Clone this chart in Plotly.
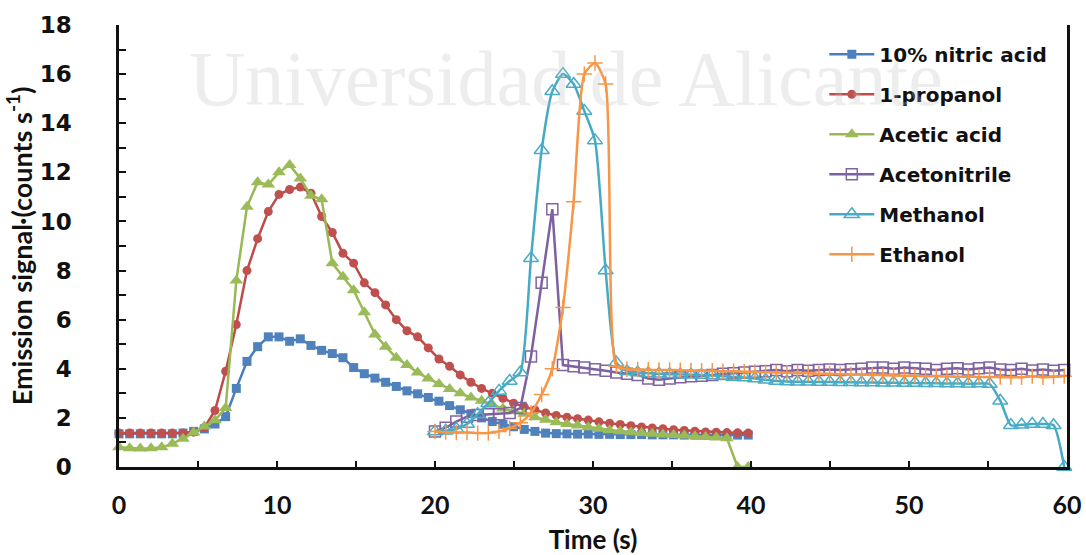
import plotly.graph_objects as go

# ---------------- data ----------------
STEP = 0.675
t_first = [round(k * STEP, 3) for k in range(60)]          # 0 .. 39.8 s
t_second = [round(20 + k * STEP, 3) for k in range(60)]    # 20 .. 59.8 s

nitric = [1.35, 1.35, 1.35, 1.35, 1.35, 1.35, 1.38,
          1.45, 1.55, 1.75, 2.05, 3.2, 4.3, 4.9, 5.3, 5.3, 5.12, 5.22, 4.95, 4.75,
          4.62, 4.45, 4.05, 3.8, 3.62, 3.45, 3.28, 3.1, 2.98, 2.83, 2.68, 2.5, 2.33,
          2.17, 2.0, 1.85, 1.74, 1.64, 1.53, 1.45, 1.38,
          1.36, 1.35, 1.34, 1.34, 1.33, 1.33, 1.32, 1.32, 1.32, 1.31, 1.31, 1.31,
          1.3, 1.3, 1.3, 1.3, 1.3, 1.3, 1.3]

propanol = [1.38, 1.38, 1.38, 1.38, 1.38, 1.38, 1.38,
            1.42, 1.6, 2.3, 3.9, 5.8, 8.0, 9.3, 10.4, 11.1, 11.3, 11.4, 11.15, 10.2,
            9.55, 8.7, 8.3, 7.5, 7.1, 6.6, 6.0, 5.55, 5.3, 4.85, 4.4, 4.1, 3.75, 3.45,
            3.2, 3.0, 2.8, 2.6, 2.45, 2.32, 2.2, 2.1, 2.03, 1.97, 1.91, 1.84, 1.78,
            1.73, 1.68, 1.63, 1.59, 1.56, 1.52, 1.49, 1.46, 1.43, 1.42, 1.4, 1.39, 1.38]

acetic = [0.8, 0.76, 0.75, 0.76, 0.8, 0.95, 1.15, 1.4, 1.65, 1.9, 2.4, 7.6, 10.6,
          11.6, 11.5, 12.0, 12.3, 11.75, 11.05, 10.9, 8.3, 7.75, 7.2, 6.3, 5.4, 4.9,
          4.45, 4.15, 3.85, 3.6, 3.38, 3.18, 3.0, 2.83, 2.7, 2.55, 2.38, 2.27, 2.17,
          2.03, 1.92, 1.82, 1.75, 1.69, 1.62, 1.56, 1.5, 1.46, 1.42, 1.38, 1.35, 1.32,
          1.3, 1.28, 1.25, 1.22, 1.2, 1.17, 0.0, 0.0]

acetonitrile = [1.45, 1.6, 1.85, 2.05, 2.12, 2.15, 2.15, 2.2, 2.4, 4.5, 7.5, 10.5,
                4.15, 4.1, 4.05, 3.98, 3.92, 3.85, 3.8, 3.75, 3.6, 3.55, 3.6, 3.65,
                3.7, 3.72, 3.75, 3.8, 3.82, 3.85, 3.88, 3.9, 3.95, 3.9, 3.95, 3.92,
                3.95, 3.97, 3.95, 3.98, 4.0, 4.05, 4.05, 4.0, 4.05, 4.02, 4.0, 3.95,
                4.0, 4.02, 3.97, 4.02, 4.05, 3.97, 3.95, 4.0, 3.93, 3.97, 3.92, 3.95]

methanol = [1.45, 1.48, 1.55, 1.75, 2.15, 2.6, 3.1, 3.5, 3.85, 8.5, 12.9, 15.3,
            16.0, 15.6, 14.5, 13.3, 8.0, 4.25,
            3.9, 3.85, 3.82, 3.8, 3.78, 3.77, 3.76, 3.75, 3.73, 3.7, 3.67, 3.64,
            3.6, 3.55, 3.5, 3.48, 3.47, 3.47, 3.46, 3.46, 3.45, 3.45, 3.44, 3.44,
            3.43, 3.43, 3.42, 3.42, 3.41, 3.41, 3.4, 3.4, 3.39, 3.4, 3.38,
            2.7, 1.7, 1.72, 1.75, 1.75, 1.7, 0.0]

ethanol = [1.45, 1.42, 1.4, 1.4, 1.38, 1.38, 1.45, 1.58, 1.8, 2.2, 2.95, 4.0, 6.5,
           10.8, 16.0, 16.45, 15.6, 4.1,
           3.98, 3.97, 3.96, 3.95, 3.95, 3.94, 3.93, 3.92, 3.92, 3.9, 3.9, 3.88,
           3.87, 3.86, 3.85, 3.84, 3.83, 3.82, 3.8, 3.8, 3.78, 3.77, 3.76, 3.75,
           3.74, 3.73, 3.72, 3.71, 3.7, 3.7, 3.69, 3.68, 3.68, 3.67, 3.67, 3.66,
           3.66, 3.65, 3.7, 3.65, 3.68, 3.7]

x_ticks = [0, 10, 20, 30, 40, 50, 60]
y_ticks = [0, 2, 4, 6, 8, 10, 12, 14, 16, 18]

# ---------------- figure ----------------
fig = go.Figure()

series = [
    ("10% nitric acid", t_first, nitric, "#4A7EBB",
     dict(symbol="square", size=9, color="#4F81BD"), "linear"),
    ("1-propanol", t_first, propanol, "#BE4B48",
     dict(symbol="circle", size=9, color="#C0504D"), "linear"),
    ("Acetic acid", t_first, acetic, "#98B954",
     dict(symbol="triangle-up", size=12, color="#9BBB59"), "linear"),
    ("Acetonitrile", t_second, acetonitrile, "#7D60A0",
     dict(symbol="square-open", size=11, color="#8064A2", line=dict(width=1.5)), "linear"),
    ("Methanol", t_second, methanol, "#46AAC5",
     dict(symbol="triangle-up-open", size=13, color="#4BACC6", line=dict(width=1.5)), "spline"),
    ("Ethanol", t_second, ethanol, "#F79646",
     dict(symbol="cross-thin", size=11, color="#F79646", line=dict(width=1.5, color="#F79646")), "spline"),
]

for i, (name, xs, ys, lc, mk, shape) in enumerate(series):
    line = dict(color=lc, width=2.5, shape=shape)
    if shape == "spline":
        line["smoothing"] = 0.6
    fig.add_trace(go.Scatter(
        x=xs, y=ys, name=name, mode="lines+markers",
        line=line, marker=mk, cliponaxis=False,
        legendgroup=f"g{i}",
    ))

fig.add_annotation(
    text="Universidad de Alicante", xref="paper", yref="paper",
    x=0.4715, y=0.88, xanchor="center", yanchor="middle", showarrow=False,
    font=dict(family="Liberation Serif", size=78, color="rgba(190,190,190,0.28)"),
)

fig.update_layout(
    width=1086, height=555,
    margin=dict(l=119, r=19, t=25, b=88),
    paper_bgcolor="white", plot_bgcolor="white",
    showlegend=True,
    legend=dict(
        x=0.744, y=0.978, xanchor="left", yanchor="top",
        bgcolor="rgba(0,0,0,0)", traceorder="grouped", tracegroupgap=11,
        itemwidth=45,
        font=dict(family="DejaVu Sans", size=20, color="#111111", weight="bold"),
    ),
    xaxis=dict(
        range=[0, 60], tickvals=x_ticks, ticktext=[str(v) for v in x_ticks],
        automargin=False,
        showline=True, linecolor="#111111", linewidth=2.5,
        ticks="inside", ticklen=6, tickwidth=2, tickcolor="#111111",
        minor=dict(dtick=5, ticks="inside", ticklen=6, tickwidth=2, tickcolor="#111111"),
        showgrid=False, zeroline=False, mirror=False,
        tickfont=dict(family="Lato", size=25, color="#111111", weight="bold"),
        ticklabelstandoff=14,
        title=dict(text="Time (s)", standoff=22,
                   font=dict(family="Lato", size=26, color="#111111", weight="bold")),
    ),
    yaxis=dict(
        range=[0, 18], tickvals=y_ticks, ticktext=[str(v) for v in y_ticks],
        automargin=False,
        showline=True, linecolor="#111111", linewidth=2.5, mirror=True,
        ticks="inside", ticklen=7, tickwidth=2, tickcolor="#111111",
        minor=dict(dtick=1, ticks="inside", ticklen=7, tickwidth=2, tickcolor="#111111"),
        showgrid=False, zeroline=False,
        tickfont=dict(family="DejaVu Sans", size=23, color="#111111", weight="bold"),
        ticklabelstandoff=40,
        title=dict(text="Emission signal·(counts s<sup>-1</sup>)", standoff=0,
                   font=dict(family="Lato", size=27, color="#111111", weight="bold")),
    ),
)

fig.write_html("out.html")
